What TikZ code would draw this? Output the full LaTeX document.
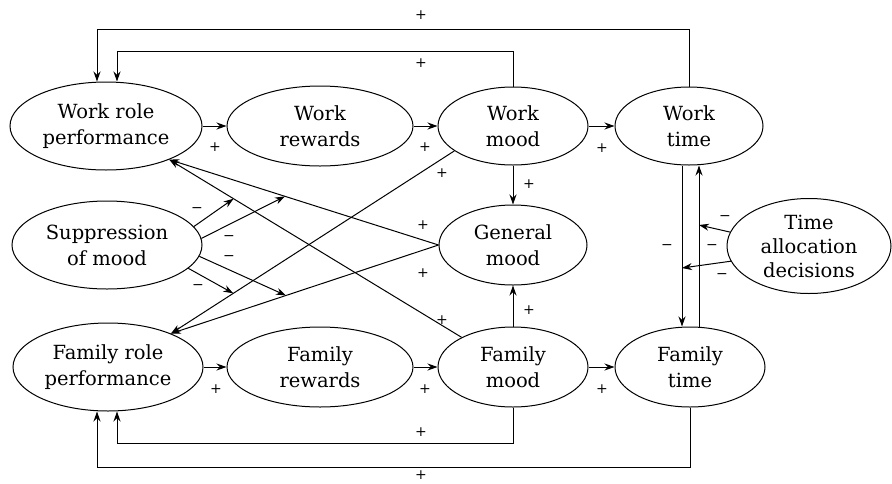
\documentclass[tikz,border=0pt]{standalone}
\usepackage{fontspec}
\setmainfont{DejaVu Serif}
\usetikzlibrary{shapes.geometric,arrows.meta,calc}
\begin{document}
\begin{tikzpicture}[x=1pt,y=-1pt,
  oval/.style={ellipse,draw,line width=1pt,inner sep=0pt,align=center,font=\fontsize{19.5}{26}\selectfont},
  arr/.style={line width=1pt,-{Stealth[length=10pt,width=7pt]}},
  sgn/.style={font=\fontsize{14}{14}\selectfont,inner sep=0pt}]
\useasboundingbox (0,0) rectangle (892,483);
% nodes
\node[oval,minimum width=192pt,minimum height=88pt] (wrp) at (106,126) {Work role\\performance};
\node[oval,minimum width=186pt,minimum height=80pt] (wrw) at (320,126) {Work\\rewards};
\node[oval,minimum width=150pt,minimum height=78pt] (wm) at (513,126) {Work\\mood};
\node[oval,minimum width=148pt,minimum height=78pt] (wt) at (689,126) {Work\\time};
\node[oval,minimum width=190pt,minimum height=88pt] (sup) at (107,245) {Suppression\\of mood};
\node[oval,minimum width=148pt,minimum height=80pt] (gm) at (513,245) {General\\mood};
\node[oval,minimum width=164pt,minimum height=95pt,font=\fontsize{19.5}{24}\selectfont] (ta) at (809,246) {Time\\allocation\\decisions};
\node[oval,minimum width=190pt,minimum height=88pt] (frp) at (108,367) {Family role\\performance};
\node[oval,minimum width=186pt,minimum height=80pt] (frw) at (320,367) {Family\\rewards};
\node[oval,minimum width=150pt,minimum height=80pt] (fm) at (513,367) {Family\\mood};
\node[oval,minimum width=150pt,minimum height=80pt] (ft) at (690,367) {Family\\time};
% horizontal chains
\draw[arr] (wrp.east) -- (wrw.west);
\draw[arr] (wrw.east) -- (wm.west);
\draw[arr] (wm.east) -- (wt.west);
\draw[arr] (frp.east) -- (frw.west);
\draw[arr] (frw.east) -- (fm.west);
\draw[arr] (fm.east) -- (ft.west);
% general mood
\draw[arr] (wm.south) -- (gm.north);
\draw[arr] (fm.north) -- (gm.south);
% time links
\draw[arr] ([xshift=-7pt]wt.south) -- ([xshift=-8pt]ft.north);
\draw[arr] ([xshift=9pt]ft.north) -- ([xshift=10pt]wt.south);
\coordinate (tu) at (699,225);
\coordinate (tl) at (682,268);
\draw[arr] (ta.170) -- (tu);
\draw[arr] (ta.191) -- (tl);
% feedback loops
\draw[arr] (wt.north) -- (wt.north |- 0,29) -| ([xshift=-9pt]wrp.north);
\draw[arr] (wm.north) -- (wm.north |- 0,51) -| ([xshift=11pt]wrp.north);
\draw[arr] (fm.south) -- (fm.south |- 0,443) -| ([xshift=9pt]frp.south);
\draw[arr] (ft.south) -- (ft.south |- 0,467) -| ([xshift=-11pt]frp.south);
% diagonals
\draw[arr] (gm.west) -- (wrp.-28);
\draw[arr] (fm.150) -- (wrp.-28);
\draw[arr] (wm.203) -- (frp.28);
\draw[arr] (gm.west) -- (frp.28);
% suppression moderators
\draw[arr] (sup.12) -- ($(wrp.-28)!0.22!(fm.150)$);
\draw[arr] (sup.4) -- ($(gm.west)!0.57!(wrp.-28)$);
\draw[arr] (sup.-7) -- ($(gm.west)!0.57!(frp.28)$);
\draw[arr] (sup.-16) -- ($(wm.203)!0.78!(frp.28)$);
% signs
\node[sgn] (p1) at (421,15) {+};
\node[sgn] (p2) at (421,63) {+};
\node[sgn] (p3) at (215,147) {+};
\node[sgn] (p4) at (425,147) {+};
\node[sgn] (p5) at (602,148) {+};
\node[sgn] (p6) at (529,184) {+};
\node[sgn] (p7) at (529,310) {+};
\node[sgn] (p8) at (442,173) {+};
\node[sgn] (p9) at (423,225) {+};
\node[sgn] (p10) at (423,273) {+};
\node[sgn] (p11) at (442,320) {+};
\node[sgn] (p12) at (216,389) {+};
\node[sgn] (p13) at (425,389) {+};
\node[sgn] (p14) at (602,389) {+};
\node[sgn] (p15) at (421,432) {+};
\node[sgn] (p16) at (421,475) {+};
\node[sgn] (m1) at (197,210) {−};
\node[sgn] (m2) at (229,238) {−};
\node[sgn] (m3) at (229,258) {−};
\node[sgn] (m4) at (198,287) {−};
\node[sgn] (m5) at (725,218) {−};
\node[sgn] (m6) at (722,276) {−};
\node[sgn] (m7) at (667,247) {−};
\node[sgn] (m8) at (712,247) {−};
\end{tikzpicture}
\end{document}
